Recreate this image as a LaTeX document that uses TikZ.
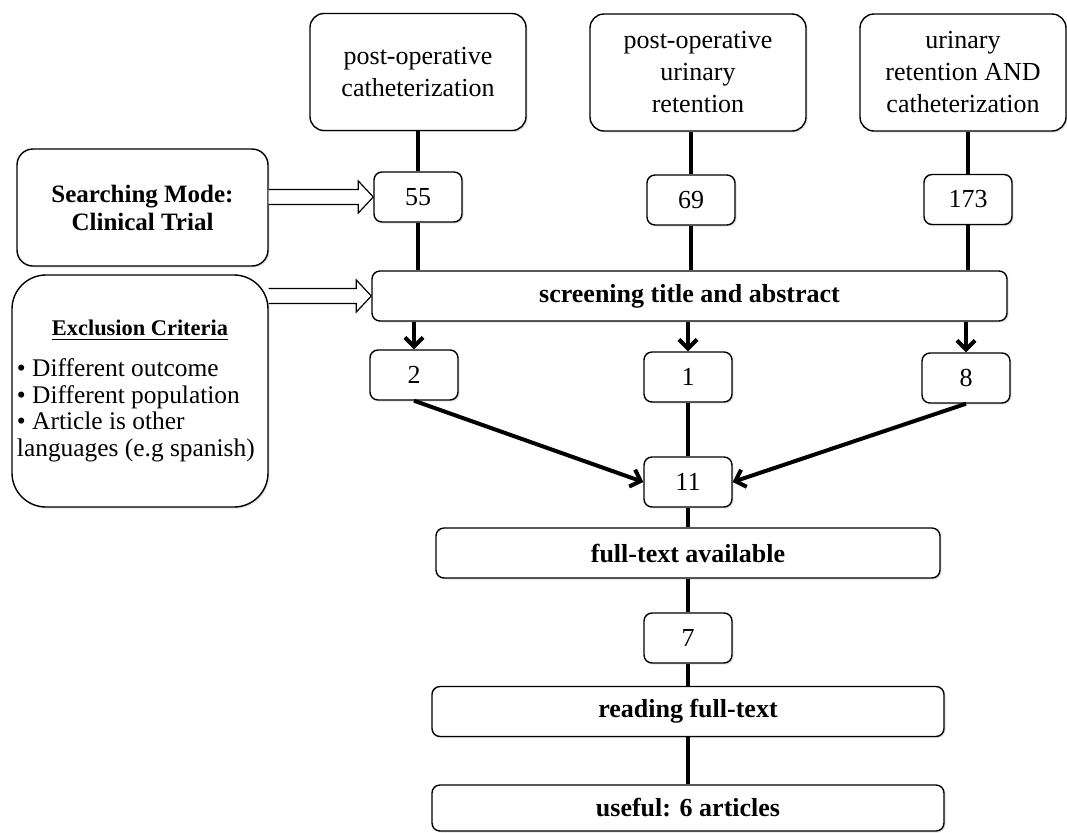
\documentclass[tikz,border=0pt]{standalone}
\usepackage{fontspec}
\setmainfont{Liberation Serif}
\usetikzlibrary{arrows.meta,calc,shadows}

\tikzset{
  box/.style={draw, line width=0.7pt, fill=white, align=center, inner sep=1pt,
    drop shadow={shadow xshift=0.8pt, shadow yshift=-0.8pt, fill=black!22}},
  topbox/.style={box, rounded corners=7pt, minimum height=58.5pt, font=\fontsize{13}{16}\selectfont},
  numbox/.style={box, rounded corners=4pt, minimum width=44pt, minimum height=25pt, font=\fontsize{13}{15}\selectfont},
  stagebox/.style={box, rounded corners=4pt, minimum height=25pt, font=\bfseries\fontsize{13}{15}\selectfont},
  link/.style={line width=2pt},
  linkarr/.style={link, -{Straight Barb[length=4.5pt,width=9pt]}},
  hollow/.style={draw, line width=0.6pt, fill=white},
}

\begin{document}
\begin{tikzpicture}[x=0.5pt, y=-0.5pt]
  \useasboundingbox (0,0) rectangle (1067,832);
  % search terms
  \node[topbox, minimum width=108pt] (term1) at (418,72) {post-operative\\catheterization};
  \node[topbox, minimum width=108pt] (term2) at (698,72.5) {post-operative\\urinary\\retention};
  \node[topbox, minimum width=103pt] (term3) at (963,72.5) {urinary\\retention AND\\catheterization};
  % hits
  \node[numbox] (n55) at (418,197) {55};
  \node[numbox] (n69) at (691,200) {69};
  \node[numbox] (n173) at (968,199.5) {173};
  \node[stagebox, minimum width=317.5pt] (screen) at (689.5,296) {screening title and abstract};
  % side notes
  \node[box, rounded corners=8pt, minimum width=125.5pt, minimum height=58.5pt,
    font=\bfseries\fontsize{12.5}{14}\selectfont] (mode) at (142.5,207.5) {Searching Mode:\\Clinical Trial};
  \node[box, rounded corners=17pt, minimum width=128pt, minimum height=116pt, align=left,
    font=\fontsize{12.7}{13.3}\selectfont] (excl) at (140,391)
    {\makebox[123pt]{\fontsize{11.2}{13}\bfseries\underline{Exclusion Criteria}}\\[7pt]
     \textbullet{} Different outcome\\
     \textbullet{} Different population\\
     \textbullet{} Article is other\\
     languages (e.g spanish)};
  % after screening
  \node[numbox] (n2) at (414,375) {2};
  \node[numbox] (n1) at (688,377) {1};
  \node[numbox] (n8) at (966,378) {8};
  \node[numbox] (n11) at (688,482) {11};
  \node[stagebox, minimum width=252pt] (avail) at (688,553) {full-text available};
  \node[numbox] (n7) at (688,638) {7};
  \node[stagebox, minimum width=256pt] (read) at (688,711.5) {reading full-text};
  \node[stagebox, minimum width=256pt, minimum height=23pt] (useful) at (688,808) {useful: 6 articles};

  % connectors
  \draw[link] (n55.north |- term1.south) -- (n55.north);
  \draw[link] (n69.north |- term2.south) -- (n69.north);
  \draw[link] (n173.north |- term3.south) -- (n173.north);
  \draw[link] (n55.south) -- (n55.south |- screen.north);
  \draw[link] (n69.south) -- (n69.south |- screen.north);
  \draw[link] (n173.south) -- (n173.south |- screen.north);
  \draw[linkarr] (n2.north |- screen.south) -- (n2.north);
  \draw[linkarr] (n1.north |- screen.south) -- (n1.north);
  \draw[linkarr] (n8.north |- screen.south) -- (n8.north);
  \draw[linkarr] (n2.south) -- (n11.west);
  \draw[linkarr] (n8.south) -- (n11.east);
  \draw[link] (n1) -- (n11);
  \draw[link] (n11) -- (avail);
  \draw[link] (avail) -- (n7);
  \draw[link] (n7) -- (read);
  \draw[link] (read) -- (useful);

  % block arrows
  \foreach \src/\dst in {mode/n55, excl/screen}{
    \draw[hollow] ($(\src.east |- \dst.west)+(0,3.75pt)$) -- ($(\dst.west)+(-7.5pt,3.75pt)$)
      -- ($(\dst.west)+(-7.5pt,8pt)$) -- (\dst.west) -- ($(\dst.west)+(-7.5pt,-8pt)$)
      -- ($(\dst.west)+(-7.5pt,-3.75pt)$) -- ($(\src.east |- \dst.west)+(0,-3.75pt)$);
  }
\end{tikzpicture}
\end{document}
